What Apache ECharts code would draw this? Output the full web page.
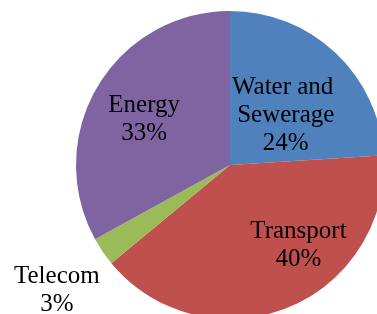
<!DOCTYPE html>
<html>
<head>
<meta charset="utf-8">
<script src="https://cdn.jsdelivr.net/npm/echarts@6/dist/echarts.min.js"></script>
<style>
  html, body { margin: 0; padding: 0; background: #fff; }
  #chart { width: 377px; height: 314px; }
</style>
</head>
<body>
<div id="chart"></div>
<script>
// sectors, clockwise from 12 o'clock
var sectors = ["Water and Sewerage", "Transport", "Telecom", "Energy"];
var shares = [24, 40, 3, 33];
var colors = ["#4F81BD", "#C0504D", "#9BBB59", "#8064A2"];
// label nudges away from echarts' default inside spot
var nudges = [[1, 9], [39, 6], [-107, 80], [-17, -5]];

var chart = echarts.init(document.getElementById("chart"));

var data = sectors.map(function (s, i) {
    return {
        name: s,
        value: shares[i],
        itemStyle: {color: colors[i]},
        label: {offset: nudges[i], width: 115, overflow: "break"}
    };
});

chart.setOption({
    animation: false,
    series: [{
        type: "pie",
        center: [230, 165],
        radius: 154,
        startAngle: 90,
        clockwise: true,
        percentPrecision: 0,
        avoidLabelOverlap: false,
        itemStyle: {borderWidth: 0},
        label: {
            show: true,
            position: "inside",
            formatter: "{b}\n{d}%",
            fontFamily: "'Liberation Serif', 'Times New Roman', serif",
            fontSize: 25,
            lineHeight: 28,
            color: "#000",
            align: "center"
        },
        labelLine: {show: false},
        emphasis: {disabled: true},
        data: data
    }]
});
</script>
</body>
</html>
